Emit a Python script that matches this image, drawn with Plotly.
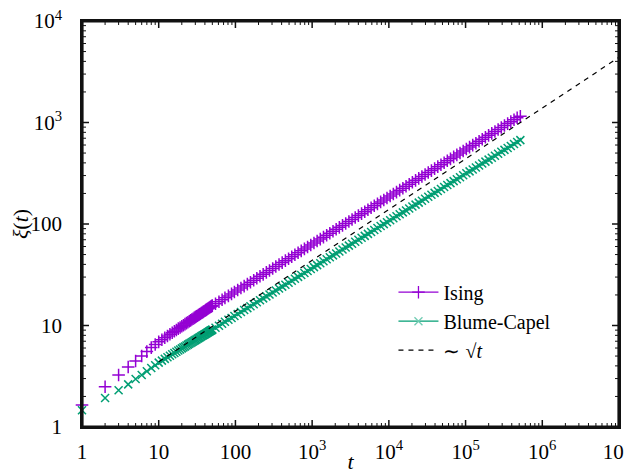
import plotly.graph_objects as go

# ---- data ----
t_small = [1, 2, 3, 4, 5, 6, 7, 8, 9, 10,
           11, 12, 13, 14, 15, 16, 17, 18, 19, 20,
           21, 22, 23, 24, 25, 26, 27, 28, 29, 30,
           31, 32, 33, 34, 35, 36, 37, 38, 39, 40,
           41, 42, 43, 44, 45, 46, 47, 48, 49, 50]
t_large = [55, 61, 67, 73, 81, 89, 97, 107, 118, 130,
           143, 157, 173, 190, 209, 230, 253, 278, 306, 336,
           370, 407, 448, 493, 542, 596, 656, 721, 793, 872,
           960, 1056, 1161, 1277, 1405, 1546, 1700, 1870, 2057, 2263,
           2489, 2738, 3012, 3313, 3644, 4009, 4410, 4851, 5336, 5869,
           6456, 7102, 7812, 8593, 9452, 10398, 11437, 12581, 13839, 15223,
           16745, 18420, 20262, 22288, 24517, 26969, 29666, 32632, 35895, 39485,
           43433, 47777, 52554, 57810, 63591, 69950, 76945, 84639, 93103, 102414,
           112655, 123920, 136312, 149943, 164938, 181431, 199575, 219532, 241485, 265634,
           292197, 321417, 353559, 388915, 427806, 470587, 517645]

xi_ising = [1.65, 2.49, 3.25, 3.90, 4.47, 5.00, 5.53, 6.06, 6.50, 6.90,
            7.24, 7.57, 7.89, 8.19, 8.48, 8.77, 9.04, 9.31, 9.57, 9.83,
            10.07, 10.32, 10.55, 10.78, 11.01, 11.23, 11.45, 11.67, 11.88, 12.08,
            12.29, 12.49, 12.68, 12.88, 13.07, 13.26, 13.45, 13.63, 13.81, 13.99,
            14.17, 14.35, 14.52, 14.69, 14.86, 15.03, 15.19, 15.36, 15.52, 15.68,
            16.39, 17.14, 17.92, 18.73, 19.58, 20.47, 21.40, 22.37, 23.39, 24.45,
            25.56, 26.72, 27.93, 29.20, 30.53, 31.91, 33.36, 34.88, 36.46, 38.12,
            39.85, 41.66, 43.55, 45.53, 47.60, 49.76, 52.02, 54.38, 56.85, 59.43,
            62.14, 64.96, 67.91, 70.99, 74.21, 77.58, 81.11, 84.79, 88.64, 92.67,
            96.88, 101.3, 105.9, 110.7, 115.7, 121.0, 126.5, 132.2, 138.2, 144.5,
            151.1, 157.9, 165.1, 172.6, 180.4, 188.6, 197.2, 206.1, 215.5, 225.3,
            235.5, 246.2, 257.4, 269.1, 281.3, 294.1, 307.4, 321.4, 336.0, 351.2,
            367.2, 383.8, 401.3, 419.5, 438.5, 458.4, 479.3, 501.0, 523.8, 547.6,
            572.4, 598.4, 625.6, 654.0, 683.7, 714.8, 747.2, 781.2, 816.6, 853.7,
            892.5, 933.0, 975.4, 1019.7, 1066.0, 1114.4, 1150.0]

xi_bc = [1.46, 1.93, 2.30, 2.63, 2.97, 3.25, 3.54, 3.81, 4.05, 4.31,
         4.51, 4.69, 4.87, 5.04, 5.20, 5.36, 5.52, 5.66, 5.81, 5.95,
         6.09, 6.22, 6.35, 6.48, 6.60, 6.72, 6.84, 6.96, 7.07, 7.18,
         7.29, 7.40, 7.51, 7.61, 7.72, 7.82, 7.92, 8.02, 8.12, 8.21,
         8.31, 8.40, 8.49, 8.58, 8.67, 8.76, 8.85, 8.94, 9.02, 9.11,
         9.52, 9.95, 10.40, 10.88, 11.37, 11.88, 12.42, 12.99, 13.58, 14.19,
         14.83, 15.50, 16.21, 16.94, 17.71, 18.51, 19.35, 20.23, 21.15, 22.10,
         23.10, 24.15, 25.24, 26.39, 27.58, 28.83, 30.14, 31.50, 32.93, 34.42,
         35.98, 37.61, 39.32, 41.10, 42.96, 44.91, 46.94, 49.07, 51.29, 53.62,
         56.05, 58.59, 61.24, 64.02, 66.92, 69.95, 73.12, 76.43, 79.90, 83.52,
         87.30, 91.26, 95.39, 99.71, 104.2, 108.9, 113.9, 119.1, 124.5, 130.1,
         136.0, 142.2, 148.6, 155.3, 162.4, 169.7, 177.4, 185.5, 193.9, 202.6,
         211.8, 221.4, 231.5, 242.0, 252.9, 264.4, 276.4, 288.9, 302.0, 315.7,
         330.0, 345.0, 360.6, 376.9, 394.0, 411.9, 430.6, 450.1, 470.5, 491.8,
         514.1, 537.4, 561.7, 587.2, 613.8, 641.6, 670.7]

sqrt_t = [10, 1e7]
sqrt_xi = [4.39, 4390]

x_decades = [1, 10, 100, 1e3, 1e4, 1e5, 1e6, 1e7]
x_decade_text = ["1", "10", "100", "10<sup>3</sup>", "10<sup>4</sup>",
                 "10<sup>5</sup>", "10<sup>6</sup>", "10<sup>7</sup>\u2009"]
y_decades = [1, 10, 100, 1e3, 1e4]
y_decade_text = ["1", "10", "100", "10<sup>3</sup>", "10<sup>4</sup>"]

t_all = t_small + t_large

PURPLE = "#9400d3"
GREEN = "#009e73"
LIGHTGREEN = "#72ccb3"
FRAME = "#111111"
FONT = "Liberation Serif"

# figure geometry (the page body adds an 8px offset, so the figure is a bit smaller)
FIG_W, FIG_H = 624, 466
M_L, M_R, M_T, M_B = 74, 13, 13, 47
X_LOG_RANGE = [0.0, 7.0]
Y_LOG_RANGE = [0.0, 4.0]
PX_PER_DEC_X = (FIG_W - M_L - M_R) / (X_LOG_RANGE[1] - X_LOG_RANGE[0])
PX_PER_DEC_Y = (FIG_H - M_T - M_B) / (Y_LOG_RANGE[1] - Y_LOG_RANGE[0])
X_MIN, X_MAX = 10 ** X_LOG_RANGE[0], 10 ** X_LOG_RANGE[1]
Y_MIN, Y_MAX = 10 ** Y_LOG_RANGE[0], 10 ** Y_LOG_RANGE[1]

fig = go.Figure()

fig.add_trace(go.Scatter(
    x=t_all, y=xi_ising, mode="markers", showlegend=False, cliponaxis=False,
    marker=dict(symbol="cross-thin", size=9, line=dict(color=PURPLE, width=1.5)),
))
fig.add_trace(go.Scatter(
    x=t_all, y=xi_bc, mode="markers", showlegend=False, cliponaxis=False,
    marker=dict(symbol="x-thin", size=8, line=dict(color=GREEN, width=1.5)),
))
fig.add_trace(go.Scatter(
    x=sqrt_t, y=sqrt_xi, mode="lines", showlegend=False,
    line=dict(color="black", width=1.2, dash="5px,5px"),
))


# ---- frame and inward tick marks, drawn through the axes' own log scales ----
def tick_positions(decades):
    major, minor = [], []
    for d in decades:
        major.append(d)
        if d != decades[-1]:
            for m in range(2, 10):
                minor.append(m * d)
    return major, minor


def tick_segments(xvals, yvals, length_px):
    fx = 10 ** (length_px / PX_PER_DEC_X)
    fy = 10 ** (length_px / PX_PER_DEC_Y)
    xs, ys = [], []
    for v in xvals:
        xs += [v, v, None, v, v, None]
        ys += [Y_MIN, Y_MIN * fy, None, Y_MAX, Y_MAX / fy, None]
    for v in yvals:
        xs += [X_MIN, X_MIN * fx, None, X_MAX, X_MAX / fx, None]
        ys += [v, v, None, v, v, None]
    return xs, ys


x_major, x_minor = tick_positions(x_decades)
y_major, y_minor = tick_positions(y_decades)

mx, my = tick_segments(x_minor, y_minor, 4)
fig.add_trace(go.Scatter(x=mx, y=my, mode="lines", showlegend=False, hoverinfo="skip",
                         line=dict(color=FRAME, width=1.0)))
Mx, My = tick_segments(x_major, y_major, 7)
fig.add_trace(go.Scatter(x=Mx, y=My, mode="lines", showlegend=False, hoverinfo="skip",
                         line=dict(color=FRAME, width=1.5)))
fig.add_trace(go.Scatter(x=[X_MIN, X_MAX, X_MAX, X_MIN, X_MIN],
                         y=[Y_MIN, Y_MIN, Y_MAX, Y_MAX, Y_MIN],
                         mode="lines", showlegend=False, hoverinfo="skip",
                         line=dict(color=FRAME, width=3.2)))

# legend entries (error-bar style: line + marker)
fig.add_trace(go.Scatter(
    x=[None], y=[None], mode="lines+markers", name="Ising",
    line=dict(color=PURPLE, width=1.3),
    marker=dict(symbol="cross-thin", size=9, line=dict(color=PURPLE, width=1.3)),
))
fig.add_trace(go.Scatter(
    x=[None], y=[None], mode="lines+markers", name="Blume-Capel",
    line=dict(color=GREEN, width=1.3),
    marker=dict(symbol="x-thin", size=8, line=dict(color=LIGHTGREEN, width=1.3)),
))
fig.add_trace(go.Scatter(
    x=[None], y=[None], mode="lines", name="∼ √<i>t</i>",
    line=dict(color="black", width=1.2, dash="5px,5px"),
))

tickfont = dict(family=FONT, size=21, color="black")

fig.update_xaxes(type="log", range=X_LOG_RANGE, showgrid=False, zeroline=False,
                 showline=True, linecolor=FRAME, linewidth=1.5, mirror=True,
                 ticks="", tickvals=x_decades, ticktext=x_decade_text,
                 tickfont=tickfont, ticklabeloverflow="allow", ticklabelstandoff=5,
                 title=dict(text="<i>t</i>", font=dict(family=FONT, size=22, color="black"),
                            standoff=12))
fig.update_yaxes(type="log", range=Y_LOG_RANGE, showgrid=False, zeroline=False,
                 showline=True, linecolor=FRAME, linewidth=1.5, mirror=True,
                 ticks="", tickvals=y_decades, ticktext=y_decade_text,
                 tickfont=tickfont, ticklabeloverflow="allow", ticklabelstandoff=14,
                 title=dict(text="<i>ξ</i>(<i>t</i>)", font=dict(family=FONT, size=22, color="black"),
                            standoff=4))

fig.update_layout(
    width=FIG_W, height=FIG_H,
    margin=dict(l=M_L, r=M_R, t=M_T, b=M_B, autoexpand=False),
    paper_bgcolor="white", plot_bgcolor="white",
    font=dict(family=FONT, size=22, color="black"),
    legend=dict(x=0.58, y=0.38, xanchor="left", yanchor="top",
                bgcolor="rgba(0,0,0,0)", borderwidth=0,
                font=dict(family=FONT, size=20, color="black"),
                tracegroupgap=0, itemwidth=40),
)

fig.write_html("out.html")
